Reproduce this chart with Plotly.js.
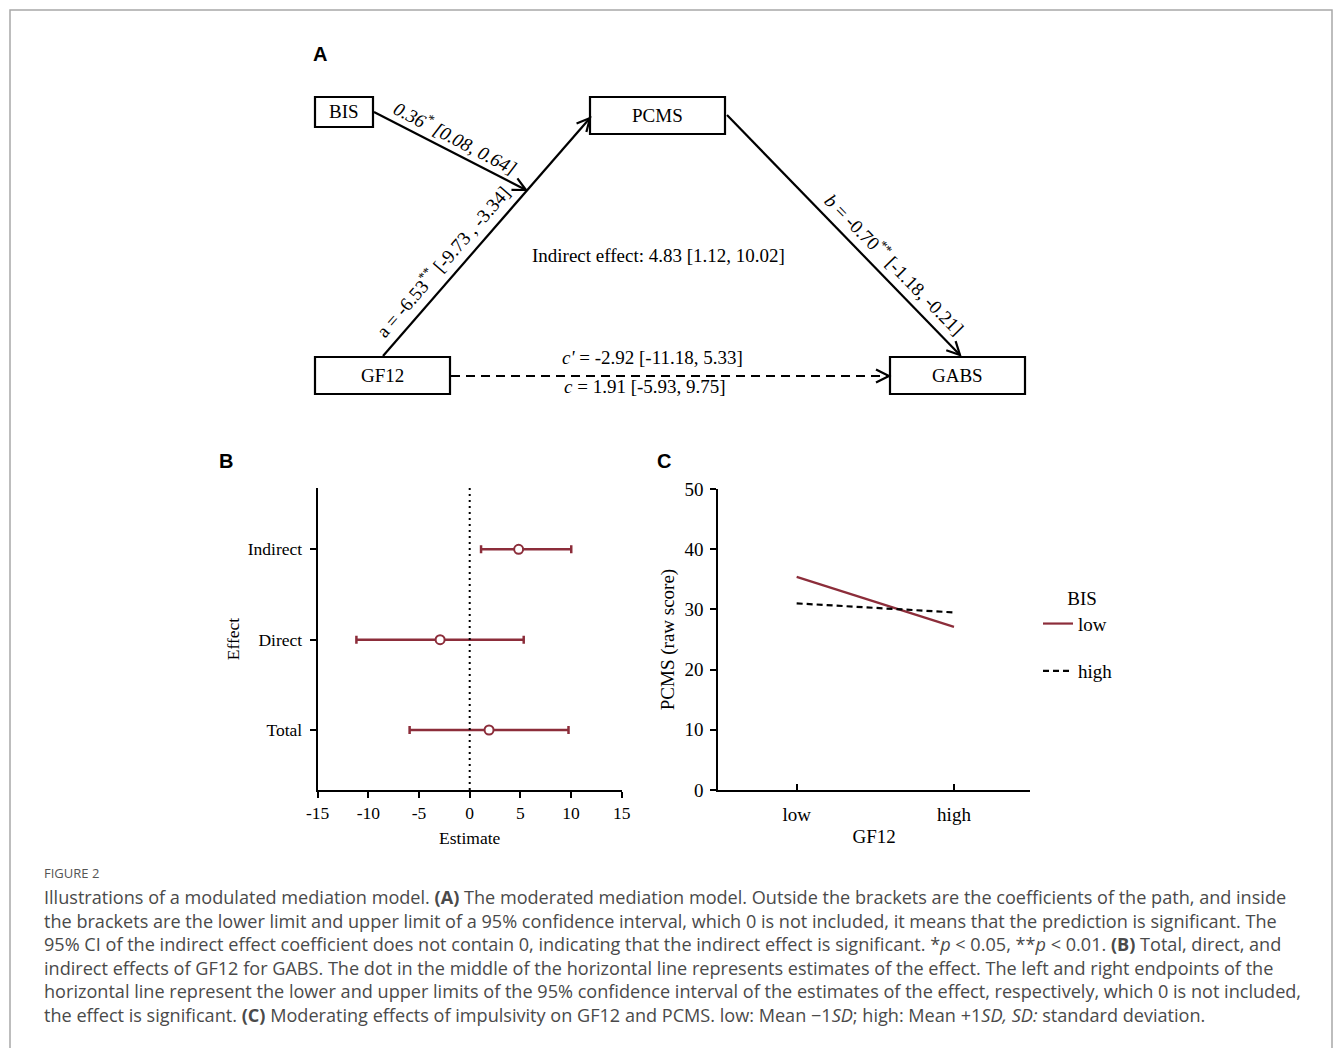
<!DOCTYPE html>
<html><head><meta charset="utf-8">
<script src="https://cdn.plot.ly/plotly-3.0.1.min.js"></script>
<style>html,body{margin:0;padding:0;background:#fff}#chart{width:1336px;height:1048px}</style>
</head><body><div id="chart"></div>
<script>
// ---------------- DATA ----------------
// Panel A path coefficients
const pathNames = ['BIS→PCMS', 'a', 'b', "c'", 'c', 'Indirect'];
const pathCoef  = [0.36, -6.53, -0.70, -2.92, 1.91, 4.83];
const pathLower = [0.08, -9.73, -1.18, -11.18, -5.93, 1.12];
const pathUpper = [0.64, -3.34, -0.21, 5.33, 9.75, 10.02];
const pathSig   = ['*', '**', '**', '', '', ''];
const nodeNames = ['BIS', 'PCMS', 'GF12', 'GABS'];

// Panel B forest plot
const effectNames = ['Indirect', 'Direct', 'Total'];
const effectEst   = [4.83, -2.92, 1.91];
const effectLower = [1.12, -11.18, -5.93];
const effectUpper = [10.02, 5.33, 9.75];
const estimateTickVals = [-15, -10, -5, 0, 5, 10, 15];
const estimateTickText = ['-15', '-10', '-5', '0', '5', '10', '15'];

// Panel C interaction
const gf12Levels   = ['low', 'high'];
const pcmsBisLow   = [35.4, 27.1];
const pcmsBisHigh  = [31.0, 29.5];
const bisLevels    = ['low', 'high'];
const pcmsTickVals = [0, 10, 20, 30, 40, 50];

// ---------------- HELPERS ----------------
const W = 1336, H = 1048;
const px = x => x / W, py = y => 1 - y / H;
const fmt = v => v.toFixed(2);
const SERIF = 'Liberation Serif, Times New Roman, serif';
const SANS = 'Liberation Sans, Arial, sans-serif';
const CAPFONT = 'Open Sans';
const RED = '#8c2d3a';

const shapes = [];
const annotations = [];

// outer frame
shapes.push({type:'rect', xref:'paper', yref:'paper', x0:px(10), x1:px(1332), y0:py(1070), y1:py(10),
  line:{color:'#a8a8a8', width:1.5}, layer:'below'});

// ---------- Panel A diagram ----------
const boxes = [
  {name:nodeNames[0], x0:315, x1:373, y0:97, y1:127},
  {name:nodeNames[1], x0:590, x1:725, y0:97, y1:134},
  {name:nodeNames[2], x0:315, x1:450, y0:357, y1:394},
  {name:nodeNames[3], x0:890, x1:1025, y0:357, y1:394}
];
boxes.forEach(b => {
  shapes.push({type:'rect', xref:'paper', yref:'paper', x0:px(b.x0), x1:px(b.x1), y0:py(b.y1), y1:py(b.y0),
    line:{color:'#000', width:2.2}, fillcolor:'rgba(0,0,0,0)'});
  annotations.push({xref:'paper', yref:'paper', x:px((b.x0+b.x1)/2), y:py((b.y0+b.y1)/2), text:b.name,
    showarrow:false, xanchor:'center', yanchor:'middle', font:{family:SERIF, size:19, color:'#000'}});
});

const arrows = [
  {x0:374, y0:112, x1:526, y1:190},
  {x0:383, y0:356, x1:590, y1:118},
  {x0:727, y0:115, x1:960, y1:355},
  {x0:451, y0:376, x1:889, y1:376, dash:true}
];
arrows.forEach(a => {
  shapes.push({type:'line', xref:'paper', yref:'paper', x0:px(a.x0), y0:py(a.y0), x1:px(a.x1), y1:py(a.y1),
    line:{color:'#000', width:2.2, dash: a.dash ? '9px,6px' : 'solid'}});
  const dx = a.x1 - a.x0, dy = a.y1 - a.y0, L = Math.hypot(dx, dy);
  const ux = dx / L, uy = dy / L, nx = -uy, ny = ux;
  const len = 13, hw = 6.5;
  const w1x = a.x1 - len*ux + hw*nx, w1y = a.y1 - len*uy + hw*ny;
  const w2x = a.x1 - len*ux - hw*nx, w2y = a.y1 - len*uy - hw*ny;
  shapes.push({type:'path', xref:'paper', yref:'paper',
    path:`M${px(w1x)},${py(w1y)} L${px(a.x1)},${py(a.y1)} L${px(w2x)},${py(w2y)}`,
    line:{color:'#000', width:2.2}});
});

const dfont = {family:SERIF, size:19, color:'#000'};
const dfontI = {family:SERIF, size:19, color:'#000', style:'italic'};
// rotated path labels: [annotation, target centre in px]
const rotated = [];
function addRot(text, cx, cy, ang, font) {
  rotated.push({idx: annotations.length, cx, cy});
  annotations.push({xref:'paper', yref:'paper', x:px(cx), y:py(cy), textangle:ang, showarrow:false,
    xanchor:'center', yanchor:'middle', text, font: font || dfont});
}
addRot(`${fmt(pathCoef[0])}<sup>${pathSig[0]}</sup> [${fmt(pathLower[0])}, ${fmt(pathUpper[0])}]`, 455, 137, 27.5, dfontI);
addRot(`${pathNames[1]} = ${fmt(pathCoef[1])}<sup>${pathSig[1]}</sup> [${fmt(pathLower[1])} , ${fmt(pathUpper[1])}]`, 442, 261, -49);
addRot(`<i>${pathNames[2]}</i> = ${fmt(pathCoef[2])}<sup>${pathSig[2]}</sup> [${fmt(pathLower[2])}, ${fmt(pathUpper[2])}]`, 896, 264, 45.5);

annotations.push({xref:'paper', yref:'paper', x:px(652), y:py(357), xanchor:'center', yanchor:'middle', showarrow:false,
  text:`<i>${pathNames[3]}</i> = ${fmt(pathCoef[3])} [${fmt(pathLower[3])}, ${fmt(pathUpper[3])}]`, font:dfont});
annotations.push({xref:'paper', yref:'paper', x:px(645), y:py(387), xanchor:'center', yanchor:'middle', showarrow:false,
  text:`<i>${pathNames[4]}</i> = ${fmt(pathCoef[4])} [${fmt(pathLower[4])}, ${fmt(pathUpper[4])}]`, font:dfont});
annotations.push({xref:'paper', yref:'paper', x:px(658), y:py(255), xanchor:'center', yanchor:'middle', showarrow:false,
  text:`${pathNames[5]} effect: ${fmt(pathCoef[5])} [${fmt(pathLower[5])}, ${fmt(pathUpper[5])}]`, font:dfont});

// panel letters
[['A',320,54],['B',226,461],['C',664,461]].forEach(([t,x,y]) => {
  annotations.push({xref:'paper', yref:'paper', x:px(x), y:py(y), text:`<b>${t}</b>`, showarrow:false,
    xanchor:'center', yanchor:'middle', font:{family:SANS, size:20, color:'#000'}});
});

// dotted zero line panel B
shapes.push({type:'line', xref:'x', yref:'y domain', x0:0, x1:0, y0:0, y1:1,
  line:{color:'#000', width:2, dash:'2px,4px'}});

// caption
const captionLines = [
  'Illustrations of a modulated mediation model. <b>(A)</b> The moderated mediation model. Outside the brackets are the coefficients of the path, and inside',
  'the brackets are the lower limit and upper limit of a 95% confidence interval, which 0 is not included, it means that the prediction is significant. The',
  '95% CI of the indirect effect coefficient does not contain 0, indicating that the indirect effect is significant. *<i>p</i> &lt; 0.05, **<i>p</i> &lt; 0.01. <b>(B)</b> Total, direct, and',
  'indirect effects of GF12 for GABS. The dot in the middle of the horizontal line represents estimates of the effect. The left and right endpoints of the',
  'horizontal line represent the lower and upper limits of the 95% confidence interval of the estimates of the effect, respectively, which 0 is not included,',
  'the effect is significant. <b>(C)</b> Moderating effects of impulsivity on GF12 and PCMS. low: Mean −1<i>SD</i>; high: Mean +1<i>SD, SD:</i> standard deviation.'
];
// fit caption font size so the first line spans the reference width
let capSize = 17;
try {
  const ctx = document.createElement('canvas').getContext('2d');
  ctx.font = `100px "${CAPFONT}"`;
  const plain = captionLines[0].replace(/<[^>]+>/g, '');
  const w100 = ctx.measureText(plain).width;
  if (w100 > 0) capSize = Math.max(14, Math.min(19, 100 * 1240 / w100));
} catch (e) {}
annotations.push({xref:'paper', yref:'paper', x:px(42), y:py(873), xanchor:'left', yanchor:'middle', showarrow:false,
  text:'FIGURE 2', font:{family:CAPFONT, size:13, color:'#555'}});
const capY = [897, 921, 944, 968, 991, 1015];
captionLines.forEach((t,i) => {
  annotations.push({xref:'paper', yref:'paper', x:px(42), y:py(capY[i]), xanchor:'left', yanchor:'middle', showarrow:false,
    align:'left', text:t, font:{family:CAPFONT, size:capSize, color:'#4a4a4a'}});
});

// ---------------- TRACES ----------------
const traces = [
  {type:'scatter', mode:'markers', x:effectEst, y:effectNames, xaxis:'x', yaxis:'y', showlegend:false,
   marker:{symbol:'circle', size:9, color:'#fff', line:{color:RED, width:2}},
   error_x:{type:'data', symmetric:false,
     array: effectUpper.map((u,i)=>u-effectEst[i]),
     arrayminus: effectLower.map((l,i)=>effectEst[i]-l),
     color:RED, thickness:2.5, width:4}},
  {type:'scatter', mode:'lines', x:gf12Levels, y:pcmsBisLow, xaxis:'x2', yaxis:'y2', name:bisLevels[0],
   legend:'legend', line:{color:RED, width:2.2}},
  {type:'scatter', mode:'lines', x:gf12Levels, y:pcmsBisHigh, xaxis:'x2', yaxis:'y2', name:bisLevels[1],
   legend:'legend2', line:{color:'#000', width:2.2, dash:'6px,4px'}}
];

const tfB = {family:SERIF, size:17.5, color:'#000'};
const tfC = {family:SERIF, size:19, color:'#000'};
const yDom = [py(790), py(488)];

const layout = {
  width:W, height:H, margin:{l:0,r:0,t:0,b:0}, paper_bgcolor:'#fff', plot_bgcolor:'rgba(0,0,0,0)',
  showlegend:true,
  xaxis:{domain:[px(317.7), px(621.7)], anchor:'y', range:[-15,15], tickvals:estimateTickVals, ticktext:estimateTickText,
    ticks:'outside', ticklen:6, tickwidth:2, tickcolor:'#000', showline:true, linewidth:2, linecolor:'#000',
    showgrid:false, zeroline:false, tickfont:tfB, ticklabelstandoff:0,
    title:{text:'Estimate', font:tfB, standoff:10}},
  yaxis:{domain:yDom, anchor:'x', type:'category', categoryorder:'array', categoryarray:effectNames.slice().reverse(),
    range:[-0.664, 2.678], ticks:'outside', ticklen:6, tickwidth:2, tickcolor:'#000', showline:true, linewidth:2,
    linecolor:'#000', showgrid:false, zeroline:false, tickfont:tfB, ticklabelstandoff:4,
    title:{text:'Effect', font:tfB, standoff:4}},
  xaxis2:{domain:[px(718.3), px(1030)], anchor:'y2', type:'category', categoryorder:'array', categoryarray:gf12Levels,
    range:[-0.498, 1.483], ticks:'inside', ticklen:6, tickwidth:2, tickcolor:'#000', showline:true, linewidth:2,
    linecolor:'#000', showgrid:false, zeroline:false, tickfont:tfC, ticklabelstandoff:6,
    title:{text:'GF12', font:tfC, standoff:6}},
  yaxis2:{domain:[py(790), py(489)], anchor:'x2', range:[0,50], tickvals:pcmsTickVals,
    ticks:'outside', ticklen:6, tickwidth:2, tickcolor:'#000', showline:true, linewidth:2, linecolor:'#000',
    showgrid:false, zeroline:false, tickfont:tfC, ticklabelstandoff:3,
    title:{text:'PCMS (raw score)', font:tfC, standoff:5}},
  legend:{x:px(1038), y:py(580), xanchor:'left', yanchor:'top', bgcolor:'rgba(0,0,0,0)',
    font:tfC, title:{text:'\u00A0\u00A0\u00A0BIS', font:tfC, side:'top center'}},
  legend2:{x:px(1038), y:py(652), xanchor:'left', yanchor:'top', bgcolor:'rgba(0,0,0,0)', font:tfC},
  shapes, annotations
};

Plotly.newPlot('chart', traces, layout, {staticPlot:true, displayModeBar:false}).then(gd => {
  // re-centre rotated labels on their intended points
  const base = gd.getBoundingClientRect();
  const upd = {};
  rotated.forEach(r => {
    const g = gd.querySelector(`.annotation[data-index="${r.idx}"] .annotation-text-g`);
    if (!g) return;
    const b = g.getBoundingClientRect();
    const cx = b.left + b.width/2 - base.left, cy = b.top + b.height/2 - base.top;
    const a = gd.layout.annotations[r.idx];
    upd[`annotations[${r.idx}].x`] = a.x + (r.cx - cx) / W;
    upd[`annotations[${r.idx}].y`] = a.y - (r.cy - cy) / H;
  });
  if (Object.keys(upd).length) return Plotly.relayout(gd, upd);
});
</script></body></html>
